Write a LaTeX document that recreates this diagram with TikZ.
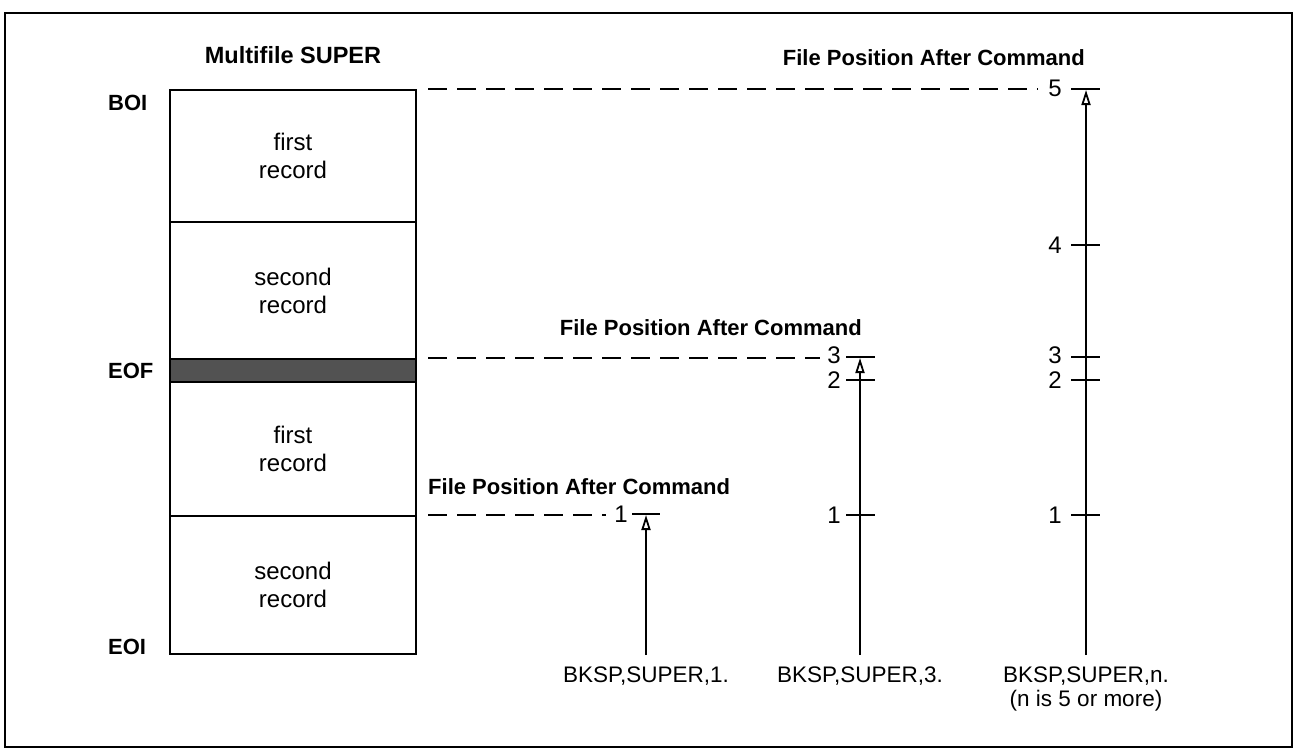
\documentclass[tikz,border=0pt]{standalone}
\usepackage{fontspec}
\setmainfont{Liberation Sans}
\usetikzlibrary{arrows.meta}
\begin{document}
\begin{tikzpicture}[x=1pt,y=-1pt,
  lbl/.style={font=\fontsize{22}{24}\selectfont\bfseries, inner sep=0pt},
  rec/.style={draw, line width=2pt, minimum width=246pt, font=\fontsize{24}{28}\selectfont, align=center, inner sep=0pt},
  num/.style={font=\fontsize{24}{24}\selectfont, inner sep=0pt},
  cmd/.style={font=\fontsize{22.5}{24}\selectfont, align=center, inner sep=0pt},
  dashline/.style={line width=1.8pt, dash pattern=on 19pt off 10pt},
  tickline/.style={line width=1.8pt},
  arr/.style={line width=1.8pt, -{Triangle[open,length=15pt,width=9pt]}},
]
\useasboundingbox (0,0) rectangle (1295,748);
\draw[line width=1.5pt] (5,13) rectangle (1292,747);

% file records
\node[rec, minimum height=132pt] (r1) at (293,156) {first\\record};
\node[rec, minimum height=137pt] (r2) at (293,290.5) {second\\record};
\node[rec, minimum height=23pt, fill=black!68] (eofband) at (293,370.5) {};
\node[rec, minimum height=134pt] (r3) at (293,449) {first\\record};
\node[rec, minimum height=138pt] (r4) at (293,585) {second\\record};

\node[lbl, font=\fontsize{23.5}{24}\selectfont\bfseries] (title) at (293,55) {Multifile SUPER};
\node[lbl, anchor=west] (boi) at (108,103) {BOI};
\node[lbl, anchor=west] (eof) at (108,371) {EOF};
\node[lbl, anchor=west] (eoi) at (108,647) {EOI};

% headings
\node[lbl, anchor=east] (fpa3) at (1085,58) {File Position After Command};
\node[lbl, anchor=east] (fpa2) at (862,328) {File Position After Command};
\node[lbl, anchor=west] (fpa1) at (428,487) {File Position After Command};

% numbers
\node[num] (n5) at (1055,88) {5};
\node[num] (n4) at (1055,245) {4};
\node[num] (n3c) at (1055,355) {3};
\node[num] (n2c) at (1055,380) {2};
\node[num] (n1c) at (1055,515) {1};
\node[num] (n3b) at (834,355) {3};
\node[num] (n2b) at (834,380) {2};
\node[num] (n1b) at (834,515) {1};
\node[num] (n1a) at (621,514) {1};

% dashed lines
\coordinate (d5) at (428,89);
\coordinate (d3) at (428,358);
\coordinate (d1) at (428,515);
\draw[dashline] (d5) -- ([xshift=-10pt]n5.west |- d5);
\draw[dashline] (d3) -- ([xshift=-7pt]n3b.west |- d3);
\draw[dashline] (d1) -- ([xshift=-8pt]n1a.west |- d1);

% ticks
\draw[tickline] (632,514) -- (660,514);
\draw[tickline] (846,357) -- (875,357);
\draw[tickline] (846,380) -- (875,380);
\draw[tickline] (846,515) -- (875,515);
\draw[tickline] (1071,89) -- (1100,89);
\draw[tickline] (1071,245) -- (1100,245);
\draw[tickline] (1071,357) -- (1100,357);
\draw[tickline] (1071,380) -- (1100,380);
\draw[tickline] (1071,515) -- (1100,515);

% arrows
\coordinate (b1) at (646,655);
\coordinate (t1) at (646,515);
\coordinate (b2) at (860,655);
\coordinate (t2) at (860,358);
\coordinate (b3) at (1086,655);
\coordinate (t3) at (1086,90);
\draw[arr] (b1) -- (t1);
\draw[arr] (b2) -- (t2);
\draw[arr] (b3) -- (t3);

% commands
\node[cmd, anchor=north] (c1) at (646,667) {BKSP,SUPER,1.};
\node[cmd, anchor=north] (c2) at (860,667) {BKSP,SUPER,3.};
\node[cmd, anchor=north] (c3) at (1086,667) {BKSP,SUPER,n.\\(n is 5 or more)};
\end{tikzpicture}
\end{document}
